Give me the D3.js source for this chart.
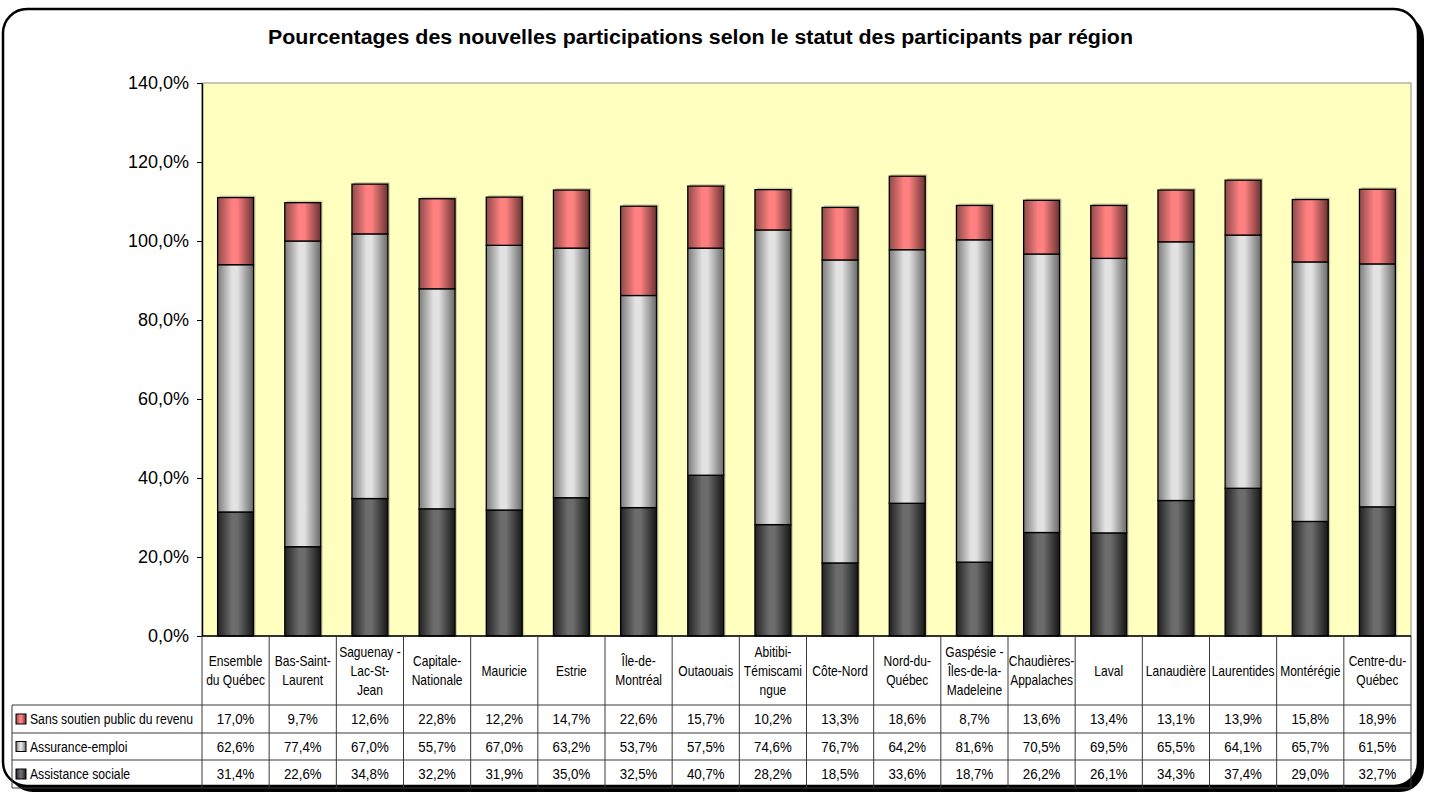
<!DOCTYPE html>
<html>
<head>
<meta charset="utf-8">
<script src="https://cdn.jsdelivr.net/npm/d3@7"></script>
<style>
  body { margin: 0; background: #fff; }
  text { font-family: "Liberation Sans", Arial, sans-serif; }
</style>
</head>
<body>
<script>
const regions = [
  "Ensemble|du Québec", "Bas-Saint-|Laurent", "Saguenay -|Lac-St-|Jean", "Capitale-|Nationale",
  "Mauricie", "Estrie", "Île-de-|Montréal", "Outaouais", "Abitibi-|Témiscami|ngue", "Côte-Nord",
  "Nord-du-|Québec", "Gaspésie -|Îles-de-la-|Madeleine", "Chaudières-|Appalaches", "Laval",
  "Lanaudière", "Laurentides", "Montérégie", "Centre-du-|Québec"
];
const sansSoutien = [17.0, 9.7, 12.6, 22.8, 12.2, 14.7, 22.6, 15.7, 10.2, 13.3, 18.6, 8.7, 13.6, 13.4, 13.1, 13.9, 15.8, 18.9];
const assuranceEmploi = [62.6, 77.4, 67.0, 55.7, 67.0, 63.2, 53.7, 57.5, 74.6, 76.7, 64.2, 81.6, 70.5, 69.5, 65.5, 64.1, 65.7, 61.5];
const assistanceSociale = [31.4, 22.6, 34.8, 32.2, 31.9, 35.0, 32.5, 40.7, 28.2, 18.5, 33.6, 18.7, 26.2, 26.1, 34.3, 37.4, 29.0, 32.7];
const yTicks = [0, 20, 40, 60, 80, 100, 120, 140];
const title = "Pourcentages des nouvelles participations selon le statut des participants par région";

// series from bottom to top
const seriesKeys = ["as", "ae", "ss"];
const seriesNames = { ss: "Sans soutien public du revenu", ae: "Assurance-emploi", as: "Assistance sociale" };
const seriesColors = {
  ss: ["#8f4a4a", "#ff8080", "#6a3333"],
  ae: ["#7c7c7c", "#e2e2e2", "#6a6a6a"],
  as: ["#222222", "#6c6c6c", "#161616"]
};
const tableOrder = ["ss", "ae", "as"];

const W = 1433, H = 795;
const PLOT_L = 202, PLOT_R = 1411, PLOT_T = 83, PLOT_B = 636;
const ROW_Y = [705, 733, 760, 788];
const HEAD_SX = 0.86, VAL_SX = 0.95, LEG_SX = 0.87;

const rows = regions.map((r, i) => ({ region: r, ss: sansSoutien[i], ae: assuranceEmploi[i], as: assistanceSociale[i] }));
const fmt = v => v.toFixed(1).replace('.', ',') + '%';

const svg = d3.select('body').append('svg').attr('width', W).attr('height', H);
const defs = svg.append('defs');

seriesKeys.forEach(k => {
  const g = defs.append('linearGradient').attr('id', 'grad-' + k)
    .attr('x1', 0).attr('x2', 1).attr('y1', 0).attr('y2', 0);
  g.append('stop').attr('offset', '0%').attr('stop-color', seriesColors[k][0]);
  g.append('stop').attr('offset', '40%').attr('stop-color', seriesColors[k][1]);
  g.append('stop').attr('offset', '55%').attr('stop-color', seriesColors[k][1]);
  g.append('stop').attr('offset', '100%').attr('stop-color', seriesColors[k][2]);
});

// outer frame with shadow
svg.append('rect').attr('x', 9).attr('y', 15).attr('width', 1415).attr('height', 777)
  .attr('rx', 24).attr('fill', '#000');
svg.append('rect').attr('x', 3).attr('y', 9).attr('width', 1415).attr('height', 777)
  .attr('rx', 24).attr('fill', '#fff').attr('stroke', '#000').attr('stroke-width', 2.5);

svg.append('text').attr('x', 268).attr('y', 44)
  .attr('font-size', '20px').attr('font-weight', 'bold')
  .attr('textLength', 865).attr('lengthAdjust', 'spacingAndGlyphs').text(title);

const y = d3.scaleLinear().domain([0, 140]).range([PLOT_B, PLOT_T]);
const x = d3.scaleBand().domain(regions).range([PLOT_L, PLOT_R]).paddingInner(0.465).paddingOuter(0.2325);
const col = d3.scaleBand().domain(regions).range([PLOT_L, PLOT_R]).padding(0);

// plot background
svg.append('rect').attr('x', PLOT_L).attr('y', PLOT_T).attr('width', PLOT_R - PLOT_L).attr('height', PLOT_B - PLOT_T)
  .attr('fill', '#ffffc0').attr('stroke', '#8c8c8c').attr('stroke-width', 1);

const stacked = d3.stack().keys(seriesKeys)(rows);

// bar shadows
svg.append('g').selectAll('rect').data(rows).enter().append('rect')
  .attr('x', d => x(d.region) + 2)
  .attr('y', d => y(d.ss + d.ae + d.as) - 2)
  .attr('width', x.bandwidth())
  .attr('height', d => PLOT_B - y(d.ss + d.ae + d.as) + 2)
  .attr('fill', '#000').attr('opacity', 0.18);

svg.append('g').selectAll('g').data(stacked).enter().append('g')
  .attr('fill', d => 'url(#grad-' + d.key + ')')
  .selectAll('rect').data(d => d).enter().append('rect')
  .attr('x', d => x(d.data.region))
  .attr('y', d => y(d[1]))
  .attr('width', x.bandwidth())
  .attr('height', d => y(d[0]) - y(d[1]))
  .attr('stroke', '#000').attr('stroke-width', 1.3);

// y axis
const yAxis = svg.append('g').attr('transform', `translate(${PLOT_L},0)`)
  .call(d3.axisLeft(y).tickValues(yTicks).tickSize(5).tickSizeOuter(0).tickPadding(8).tickFormat(fmt));
yAxis.selectAll('text').attr('font-size', '18px').attr('fill', '#000')
  .attr('font-family', '"Liberation Sans", Arial, sans-serif');
yAxis.selectAll('line').attr('stroke', '#000');
yAxis.select('.domain').attr('stroke', '#000').attr('stroke-width', 1.5);

// data table
const grid = svg.append('g').attr('stroke', '#3a3a3a').attr('stroke-width', 1);
ROW_Y.forEach(ry => {
  grid.append('line').attr('x1', 12).attr('x2', PLOT_R).attr('y1', ry).attr('y2', ry);
});
grid.append('line').attr('x1', PLOT_L).attr('x2', PLOT_R).attr('y1', PLOT_B).attr('y2', PLOT_B).attr('stroke', '#000').attr('stroke-width', 1.5);
grid.append('line').attr('x1', 12).attr('x2', 12).attr('y1', ROW_Y[0]).attr('y2', ROW_Y[3]);
regions.forEach(r => {
  grid.append('line').attr('x1', col(r)).attr('x2', col(r)).attr('y1', PLOT_B).attr('y2', ROW_Y[3]);
});
grid.append('line').attr('x1', PLOT_R).attr('x2', PLOT_R).attr('y1', PLOT_B).attr('y2', ROW_Y[3]);

// header labels
const headG = svg.append('g');
regions.forEach(r => {
  const lines = r.split('|');
  const cx = col(r) + col.bandwidth() / 2;
  const midY = (PLOT_B + ROW_Y[0]) / 2;
  lines.forEach((ln, j) => {
    const ly = midY + (j - (lines.length - 1) / 2) * 19 + 5;
    headG.append('text').attr('transform', `translate(${cx},${ly}) scale(${HEAD_SX},1)`)
      .attr('text-anchor', 'middle').attr('font-size', '14px').text(ln);
  });
});

// rows
tableOrder.forEach((k, i) => {
  const cy = (ROW_Y[i] + ROW_Y[i + 1]) / 2;
  svg.append('rect').attr('x', 16).attr('y', cy - 5).attr('width', 10).attr('height', 10)
    .attr('fill', 'url(#grad-' + k + ')').attr('stroke', '#000').attr('stroke-width', 1);
  svg.append('text').attr('transform', `translate(30,${cy + 5}) scale(${LEG_SX},1)`)
    .attr('font-size', '14px').text(seriesNames[k]);
  svg.append('g').selectAll('text').data(rows).enter().append('text')
    .attr('transform', d => `translate(${col(d.region) + col.bandwidth() / 2},${cy + 5}) scale(${VAL_SX},1)`)
    .attr('text-anchor', 'middle').attr('font-size', '14px')
    .text(d => fmt(d[k]));
});
</script>
</body>
</html>
